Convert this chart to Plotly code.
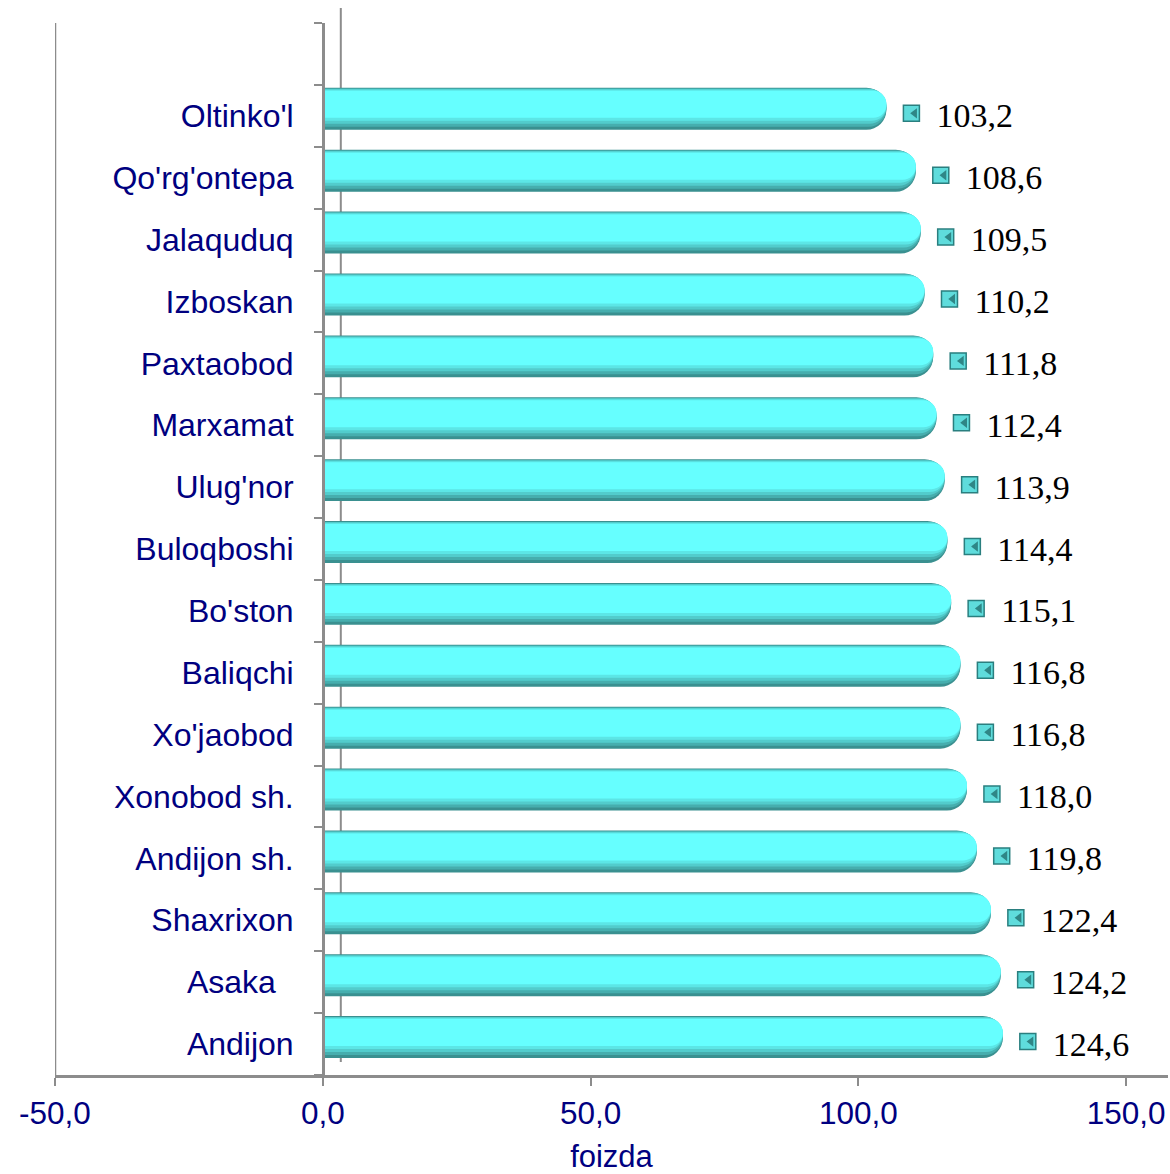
import plotly.graph_objects as go

# Data (bottom to top)
regions = ["Andijon", "Asaka\u00a0\u00a0", "Shaxrixon", "Andijon sh.", "Xonobod sh.", "Xo'jaobod",
           "Baliqchi", "Bo'ston", "Buloqboshi", "Ulug'nor", "Marxamat", "Paxtaobod",
           "Izboskan", "Jalaquduq", "Qo'rg'ontepa", "Oltinko'l"]
values = [124.6, 124.2, 122.4, 119.8, 118.0, 116.8, 116.8, 115.1, 114.4, 113.9,
          112.4, 111.8, 110.2, 109.5, 108.6, 103.2]
x_tickvals = [-50, 0, 50, 100, 150]
x_ticktext = ["-50,0", "0,0", "50,0", "100,0", "150,0"]

ypos = list(range(len(regions)))
labels = [f"{v:.1f}".replace(".", ",") for v in values]

GRAY = "#8c8c8c"
NAVY = "#000080"
PX_PER_UNIT_BAR = 5.44
CAT_PX = 62.0

fig = go.Figure()

# Layered bars for a 3D cylinder look
layers = [
    (0, 0, "#3a9090", 20),
    (1, 3, "#46aeae", 19),
    (1, 6, "#52cccc", 19),
    (2, 9, "#5ce6e6", 18),
    (3, 12, "#66ffff", 17),
]
bar_lo, bar_hi = -0.226, 0.452
for top_px, bot_px, col, cr in layers:
    lo = bar_lo + bot_px / CAT_PX
    hi = bar_hi - top_px / CAT_PX
    fig.add_trace(go.Bar(
        x=values, y=ypos, orientation="h",
        offset=lo, width=hi - lo,
        marker=dict(color=col, line=dict(width=0), cornerradius=cr),
        xaxis="x2", yaxis="y", showlegend=False, hoverinfo="skip",
    ))

# label markers
mk_off = 25 / PX_PER_UNIT_BAR
fig.add_trace(go.Scatter(
    x=[v + mk_off for v in values], y=[p + 0.04 for p in ypos], mode="markers",
    marker=dict(symbol="square", size=16, color="#5fdcdc",
                line=dict(color="#2a7f7f", width=1.5)),
    xaxis="x2", yaxis="y", showlegend=False, hoverinfo="skip",
))
fig.add_trace(go.Scatter(
    x=[v + mk_off + 0.6 for v in values], y=[p + 0.04 for p in ypos], mode="markers",
    marker=dict(symbol="triangle-left", size=9, color="#2f8686", line=dict(width=0)),
    xaxis="x2", yaxis="y", showlegend=False, hoverinfo="skip",
))
# label texts
txt_off = 50 / PX_PER_UNIT_BAR
fig.add_trace(go.Scatter(
    x=[v + txt_off for v in values], y=[p - 0.05 for p in ypos], mode="text", text=labels,
    textposition="middle right",
    textfont=dict(family="Liberation Serif", size=34, color="black"),
    xaxis="x2", yaxis="y", showlegend=False, hoverinfo="skip",
))

x_min, x_max = -50, 157.8
bar_r0 = -270 / PX_PER_UNIT_BAR
bar_r1 = (1168 - 325) / PX_PER_UNIT_BAR

fig.update_layout(
    width=1170, height=1174,
    margin=dict(l=55, r=2, t=23, b=99),
    paper_bgcolor="white", plot_bgcolor="white",
    barmode="overlay",
    xaxis=dict(
        range=[x_min, x_max], tickvals=x_tickvals, ticktext=x_ticktext,
        showgrid=False, zeroline=False, showline=True, linecolor=GRAY, linewidth=2.5,
        ticks="outside", ticklen=8, tickwidth=2, tickcolor=GRAY,
        tickfont=dict(family="Liberation Sans", size=31.5, color=NAVY),
        title=dict(text="foizda", standoff=20,
                   font=dict(family="Liberation Sans", size=31, color=NAVY)),
        anchor="y", automargin=False,
    ),
    xaxis2=dict(range=[bar_r0, bar_r1], overlaying="x", visible=False, anchor="y"),
    yaxis=dict(
        range=[-0.5, len(regions) + 0.5],
        tickvals=ypos, ticktext=regions,
        anchor="free", position=(0 - x_min) / (x_max - x_min),
        showgrid=False, zeroline=False, showline=True, linecolor=GRAY, linewidth=2.5,
        ticks="", ticklabelstandoff=22, automargin=False,
        tickfont=dict(family="Liberation Sans", size=32, color=NAVY),
        minor=dict(tickvals=[i - 0.5 for i in range(len(regions) + 2)],
                   ticks="outside", ticklen=8, tickwidth=2, tickcolor=GRAY),
    ),
    shapes=[
        dict(type="line", xref="x", yref="paper", x0=-50, x1=-50, y0=0, y1=1,
             line=dict(color=GRAY, width=2.5)),
        dict(type="line", xref="x", yref="paper", x0=3.36, x1=3.36,
             y0=13 / 1052, y1=1 + 15 / 1052, line=dict(color=GRAY, width=2), layer="below"),
    ],
)

fig.write_html("out.html", config={"displayModeBar": False},
               post_script="document.body.style.margin='0';")
